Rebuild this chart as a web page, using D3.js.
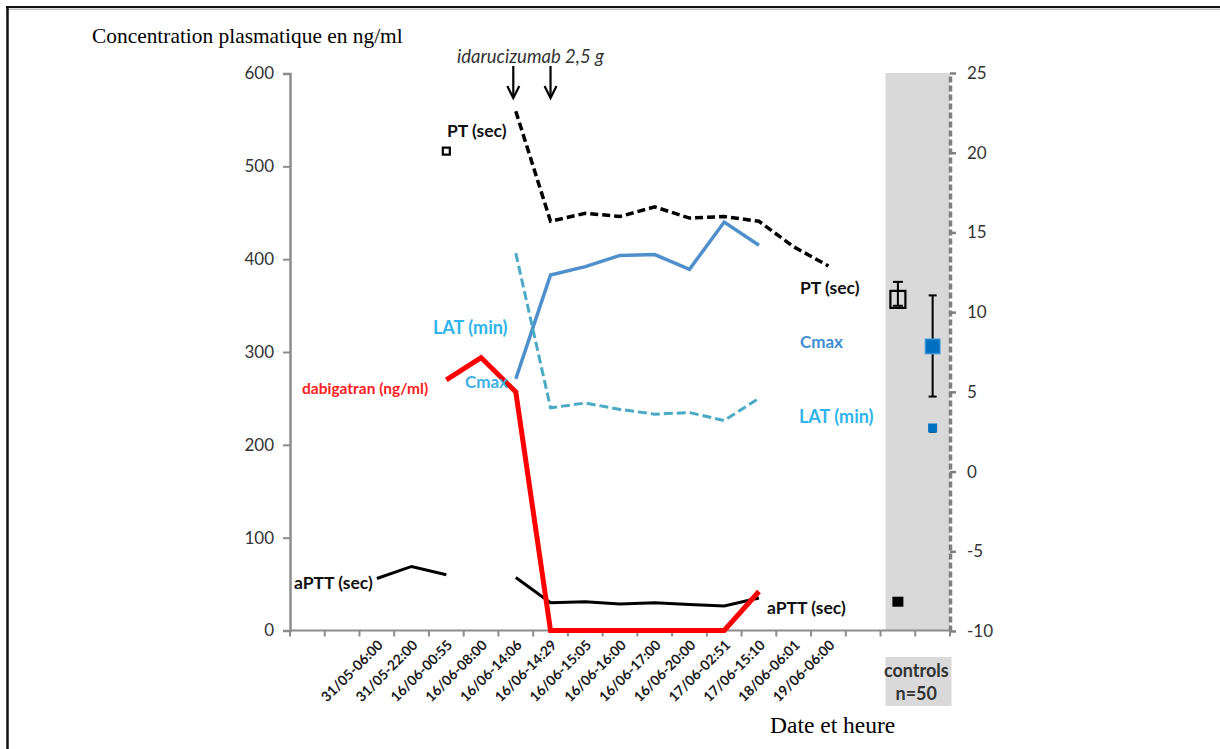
<!DOCTYPE html>
<html><head><meta charset="utf-8">
<script src="https://cdn.jsdelivr.net/npm/d3@7"></script>
<style>body{margin:0;background:#fff} svg{display:block}</style>
</head><body>
<svg id="c" width="1220" height="749"></svg>
<script>
// ---------- data ----------
const dateLabels = ["31/05-06:00","31/05-22:00","16/06-00:55","16/06-08:00","16/06-14:06","16/06-14:29",
  "16/06-15:05","16/06-16:00","16/06-17:00","16/06-20:00","17/06-02:51","17/06-15:10","18/06-06:01","19/06-06:00"];
const slots = ["pre1","pre2", ...dateLabels, "gap", "ctrl1", "ctrl2"];
const leftTicks = [0,100,200,300,400,500,600];
const rightTicks = [-10,-5,0,5,10,15,20,25];

// left axis (ng/ml, nM, sec)
const dabigatran = [null,null,270,294,257,0,0,0,0,0,0,42,null,null];
const aPTT       = [56,69,60,null,57,30,31,28.5,30,28,26.5,35,null,null];
const cmax       = [null,null,null,null,271,383,392,404,405,389,440,415,null,null];
// right axis (sec, min)
const pt         = [null,null,20.1,null,22.6,15.7,16.2,16.0,16.6,15.9,16.0,15.7,14.1,12.9];
const lat        = [null,null,null,null,13.7,4.0,4.3,3.9,3.6,3.7,3.2,4.6,null,null];
// controls n=50
const ctrlPT   = {mean:10.8, low:10.4, high:11.9};
const ctrlAPTT = {mean:31};
const ctrlCmax = {mean:306, low:252, high:361};
const ctrlLAT  = {mean:2.7, low:2.5, high:2.9};
const idaDoses = ["16/06-14:06","16/06-14:29"];

// ---------- scales ----------
const svg = d3.select("#c");
const x = d3.scaleBand().domain(slots).range([290,950]).padding(0);
const xc = k => x(k) + x.bandwidth()/2;
const yL = d3.scaleLinear().domain([0,600]).range([630.5,73.5]);
const yR = d3.scaleLinear().domain([-10,25]).range([631,73]);
const F = "Lato, 'Open Sans', sans-serif";

// frame
svg.append("line").attr("x1",6).attr("x2",1220).attr("y1",7).attr("y2",7).attr("stroke","#111").attr("stroke-width",2);
svg.append("line").attr("x1",6).attr("x2",1220).attr("y1",9.2).attr("y2",9.2).attr("stroke","#888").attr("stroke-width",0.8);
svg.append("line").attr("x1",7.5).attr("x2",7.5).attr("y1",6).attr("y2",749).attr("stroke","#111").attr("stroke-width",2.5);

// controls shading
svg.append("rect").attr("x", x("ctrl1")+5).attr("y", yR(25)).attr("width", x("ctrl2")+x.bandwidth()-x("ctrl1")-5)
  .attr("height", yR(-10)-yR(25)).attr("fill","#d9d9d9");

// left axis
const gL = svg.append("g").attr("transform","translate(290,0)")
  .call(d3.axisLeft(yL).tickValues(leftTicks).tickSize(7).tickPadding(9).tickFormat(d=>String(d)));
gL.select(".domain").attr("stroke","#8c8c8c").attr("stroke-width",2.5);
gL.selectAll(".tick line").attr("stroke","#8c8c8c").attr("stroke-width",2);
gL.selectAll("text").attr("font-family",F).attr("font-size",17).attr("fill","#333");

// right axis
const gR = svg.append("g").attr("transform","translate(950,0)")
  .call(d3.axisRight(yR).tickValues(rightTicks).tickSize(6).tickPadding(11).tickSizeOuter(0).tickFormat(d=>String(d)));
gR.select(".domain").attr("stroke","#7f7f7f").attr("stroke-width",3.5).attr("stroke-dasharray","6,3");
gR.selectAll(".tick line").attr("stroke","#7f7f7f").attr("stroke-width",2.5);
gR.selectAll("text").attr("font-family",F).attr("font-size",17).attr("fill","#333");

// x axis
const y0 = yL(0);
svg.append("line").attr("x1",290).attr("x2",950).attr("y1",y0).attr("y2",y0).attr("stroke","#8c8c8c").attr("stroke-width",2);
svg.append("g").selectAll("line").data(slots.concat(["__end"])).join("line")
  .attr("x1",(d,i)=> i<slots.length ? x(d) : 950).attr("x2",(d,i)=> i<slots.length ? x(d) : 950)
  .attr("y1",y0).attr("y2",y0+6).attr("stroke","#8c8c8c").attr("stroke-width",2);
svg.append("g").selectAll("text").data(dateLabels).join("text")
  .attr("transform", d => `translate(${xc(d)+7},646) rotate(-45)`)
  .attr("text-anchor","end").attr("font-family",F).attr("font-weight",700).attr("font-size",14).attr("fill","#1a1a1a")
  .text(d=>d);

// controls label
svg.append("rect").attr("x", x("ctrl1")+5).attr("y",657).attr("width", 66).attr("height",49).attr("fill","#d9d9d9");
svg.append("text").attr("x", x("ctrl2")+1).attr("y",677).attr("text-anchor","middle").attr("font-family",F)
  .attr("font-weight",700).attr("font-size",18).attr("fill","#333").text("controls");
svg.append("text").attr("x", x("ctrl2")+1).attr("y",700).attr("text-anchor","middle").attr("font-family",F)
  .attr("font-weight",700).attr("font-size",18).attr("fill","#333").text("n=50");

// ---------- series ----------
const lineOf = ys => d3.line().defined(d=>d!=null).x((d,i)=>xc(dateLabels[i])).y(d=>ys(d));

svg.append("path").datum(pt).attr("d",lineOf(yR)).attr("fill","none").attr("stroke","#000")
  .attr("stroke-width",3.5).attr("stroke-dasharray","8,4");
// isolated PT points as square markers
svg.append("g").selectAll("rect").data(pt.map((v,i)=>({v,i})).filter(d=>d.v!=null && pt[d.i-1]==null && pt[d.i+1]==null))
  .join("rect").attr("x",d=>xc(dateLabels[d.i])-3.5).attr("y",d=>yR(d.v)-3.5).attr("width",7).attr("height",7)
  .attr("fill","#fff").attr("stroke","#000").attr("stroke-width",2.2);

svg.append("path").datum(cmax).attr("d",lineOf(yL)).attr("fill","none").attr("stroke","#4f8fcb")
  .attr("stroke-width",3.5).attr("stroke-linejoin","miter");
svg.append("path").datum(lat).attr("d",lineOf(yR)).attr("fill","none").attr("stroke","#4aaac6")
  .attr("stroke-width",3).attr("stroke-dasharray","9,4");
svg.append("path").datum(aPTT).attr("d",lineOf(yL)).attr("fill","none").attr("stroke","#000")
  .attr("stroke-width",3);
svg.append("path").datum(dabigatran).attr("d",lineOf(yL)).attr("fill","none").attr("stroke","#ff0000")
  .attr("stroke-width",5).attr("stroke-linejoin","miter");

// controls markers
const c1 = xc("ctrl1"), c2 = xc("ctrl2");
function errBar(cx, lo, hi, cap){
  svg.append("line").attr("x1",cx).attr("x2",cx).attr("y1",lo).attr("y2",hi).attr("stroke","#000").attr("stroke-width",2);
  [lo,hi].forEach(yy=>svg.append("line").attr("x1",cx-cap).attr("x2",cx+cap).attr("y1",yy).attr("y2",yy).attr("stroke","#000").attr("stroke-width",2));
}
errBar(c1, yR(ctrlPT.low), yR(ctrlPT.high), 5);
svg.append("rect").attr("x",c1-7.5).attr("y",yR(ctrlPT.mean)-8.5).attr("width",15).attr("height",17)
  .attr("fill","none").attr("stroke","#000").attr("stroke-width",2.2);
svg.append("rect").attr("x",c1-5.5).attr("y",yL(ctrlAPTT.mean)-5).attr("width",11).attr("height",10).attr("fill","#000");
errBar(c2, yL(ctrlCmax.low), yL(ctrlCmax.high), 4);
svg.append("rect").attr("x",c2-7.5).attr("y",yL(ctrlCmax.mean)-7.5).attr("width",15).attr("height",15)
  .attr("fill","#0070c0").attr("stroke","#5aa6e6").attr("stroke-width",1);
errBar(c2, yR(ctrlLAT.low), yR(ctrlLAT.high), 3);
svg.append("rect").attr("x",c2-4.5).attr("y",yR(ctrlLAT.mean)-5).attr("width",9).attr("height",9).attr("fill","#0070c0");

// arrows (idarucizumab)
idaDoses.forEach((d,i)=>{
  const ax = xc(d) - (i===0?2.5:0);
  svg.append("line").attr("x1",ax).attr("x2",ax).attr("y1",66).attr("y2",97).attr("stroke","#000").attr("stroke-width",2.2);
  svg.append("path").attr("d",`M${ax-6},${86} L${ax},${98} L${ax+6},${86}`).attr("fill","none").attr("stroke","#000").attr("stroke-width",2.2);
});

// ---------- text ----------
function label(t, xx, cy, color, size, weight, style){
  svg.append("text").attr("x",xx).attr("y",cy).attr("dy","0.35em").attr("font-family",F)
    .attr("font-size",size).attr("font-weight",weight||700).attr("font-style",style||"normal").attr("fill",color).text(t);
}
label("idarucizumab 2,5 g", 457, 57, "#333", 18.5, 400, "italic");
label("PT (sec)", 447, 130.5, "#111", 17.5);
label("LAT (min)", 433, 328, "#2eb4ec", 18);
label("dabigatran (ng/ml)", 302, 389, "#ff2020", 15.5);
label("Cmax", 465, 382, "#3cb1e6", 17);
label("aPTT (sec)", 294, 583, "#111", 17.5);
label("PT (sec)", 800, 288, "#111", 17.5);
label("Cmax", 800, 342, "#3f8ed2", 17);
label("LAT (min)", 799, 417, "#2eb4ec", 18);
label("aPTT (sec)", 767, 608, "#111", 17.5);

svg.append("text").attr("x",92).attr("y",43).attr("font-family","'Liberation Serif', 'Times New Roman', serif")
  .attr("font-size",21.4).attr("fill","#000").text("Concentration plasmatique en ng/ml");
svg.append("text").attr("x",770).attr("y",733).attr("font-family","'Liberation Serif', 'Times New Roman', serif")
  .attr("font-size",23.5).attr("fill","#000").text("Date et heure");
</script>
</body></html>
